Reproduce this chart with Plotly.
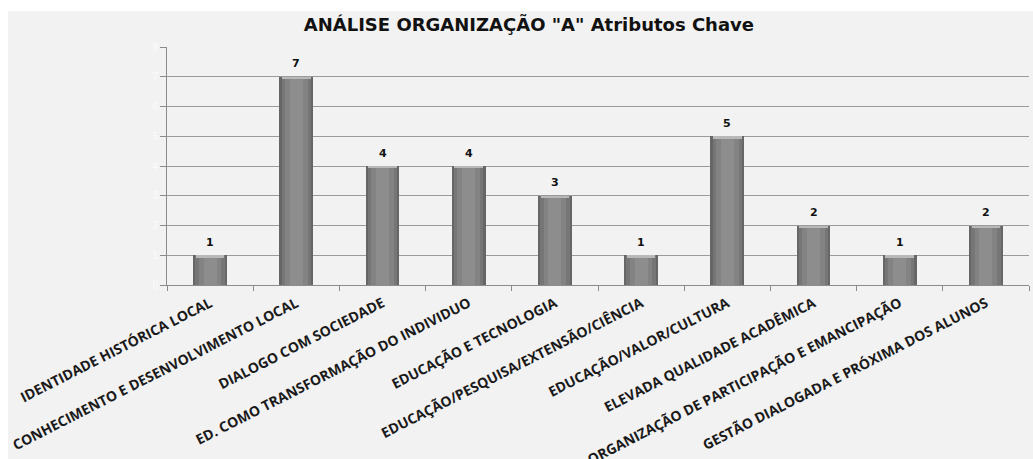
import plotly.graph_objects as go

# Key attributes of organisation "A" and how often each was cited
categorias = [
    "IDENTIDADE HISTÓRICA LOCAL",
    "CONHECIMENTO E DESENVOLVIMENTO LOCAL",
    "DIALOGO COM SOCIEDADE",
    "ED. COMO TRANSFORMAÇÃO DO INDIVIDUO",
    "EDUCAÇÃO E TECNOLOGIA",
    "EDUCAÇÃO/PESQUISA/EXTENSÃO/CIÊNCIA",
    "EDUCAÇÃO/VALOR/CULTURA",
    "ELEVADA QUALIDADE ACADÊMICA",
    "ORGANIZAÇÃO DE PARTICIPAÇÃO E EMANCIPAÇÃO",
    "GESTÃO DIALOGADA E PRÓXIMA DOS ALUNOS",
]
valores = [1, 7, 4, 4, 3, 1, 5, 2, 1, 2]
y_ticks = [0, 1, 2, 3, 4, 5, 6, 7, 8]

titulo = 'ANÁLISE ORGANIZAÇÃO "A" Atributos Chave'

fig = go.Figure()

# Layered bars give the rounded, shaded column look
camadas = [
    (0.39, "#666666"),
    (0.34, "#767676"),
    (0.26, "#838383"),
    (0.15, "#8d8d8d"),
]
for w, cor in camadas:
    fig.add_trace(go.Bar(
        x=categorias, y=valores, width=w,
        marker=dict(color=cor, line=dict(width=0)),
        hoverinfo="skip", showlegend=False,
    ))

# Light cap on top of each column
cap = 0.08
fig.add_trace(go.Bar(
    x=categorias, y=[cap] * len(valores), base=[v - cap for v in valores],
    width=0.33, marker=dict(color="#b8b8b8", line=dict(width=0)),
    hoverinfo="skip", showlegend=False,
))

# Value labels above the columns
anotacoes = [
    dict(x=c, y=v, text=f"<b>{v}</b>", showarrow=False, yshift=13,
         font=dict(family="DejaVu Sans", size=11, color="#111111"))
    for c, v in zip(categorias, valores)
]

fig.update_layout(
    width=1033, height=459,
    margin=dict(l=167, r=4, t=47, b=174),
    paper_bgcolor="white",
    plot_bgcolor="#f2f2f2",
    barmode="overlay",
    bargap=0,
    annotations=anotacoes,
    title=dict(
        text=f"<b>{titulo}</b>",
        x=0.512, xref="container", xanchor="center",
        y=1 - 25 / 459, yref="container", yanchor="middle",
        font=dict(family="DejaVu Sans", size=18, color="#111111"),
        automargin=False,
    ),
    shapes=[dict(
        type="rect", xref="paper", yref="paper",
        x0=(8 - 167) / 862, x1=1.01, y0=-0.75, y1=(285 - 11) / 238,
        fillcolor="#f2f2f2", line=dict(width=0), layer="below",
    )],
    xaxis=dict(
        type="category",
        automargin=False,
        tickangle=-27,
        tickfont=dict(family="Open Sans", size=14, color="#1a1a1a", weight="bold"),
        ticklabelstandoff=4,
        showline=True, linecolor="#8c8c8c", linewidth=1,
        ticks="outside", ticklen=5, tickcolor="#8c8c8c",
        tickson="boundaries",
        showgrid=False,
    ),
    yaxis=dict(
        automargin=False,
        range=[0, 8], tickvals=y_ticks,
        tickfont=dict(family="Liberation Sans", size=10, color="#fcfcfc"),
        showline=True, linecolor="#8c8c8c", linewidth=1,
        ticks="outside", ticklen=6, tickcolor="#8c8c8c",
        showgrid=True, gridcolor="#9a9a9a", gridwidth=1,
        zeroline=False,
    ),
)

fig.write_html("out.html")
